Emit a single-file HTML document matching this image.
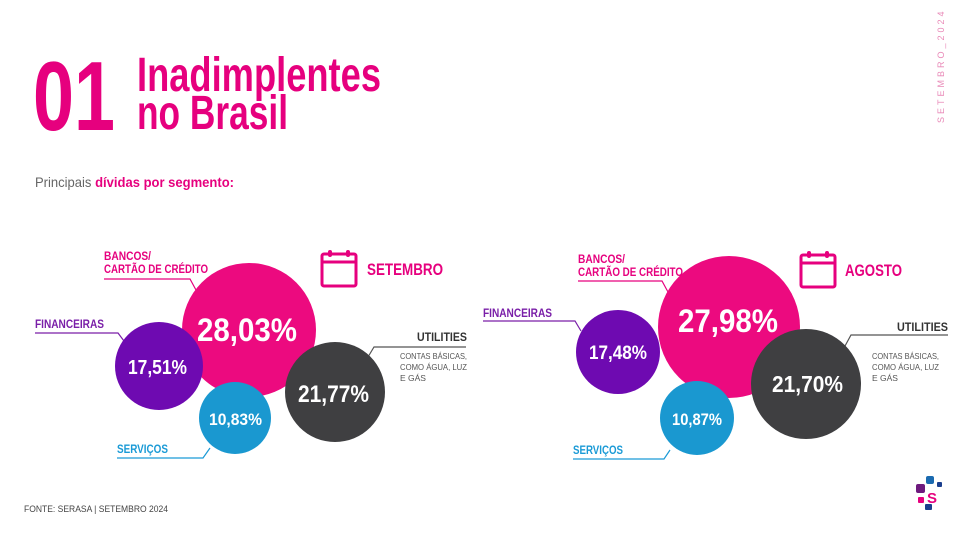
<!DOCTYPE html>
<html><head><meta charset="utf-8"><style>
html,body{margin:0;padding:0;background:#fff;}
svg{display:block}
text{font-family:"Liberation Sans",sans-serif;}
</style></head><body>
<svg width="960" height="541" viewBox="0 0 960 541" xmlns="http://www.w3.org/2000/svg">
<rect width="960" height="541" fill="#fff"/>
<!-- title -->
<text x="33" y="130" font-size="98" font-weight="bold" fill="#e6007e" textLength="82" lengthAdjust="spacingAndGlyphs">01</text>
<text x="137" y="91" font-size="48" font-weight="bold" fill="#e6007e" textLength="244" lengthAdjust="spacingAndGlyphs">Inadimplentes</text>
<text x="137" y="129" font-size="48" font-weight="bold" fill="#e6007e" textLength="151" lengthAdjust="spacingAndGlyphs">no Brasil</text>
<text x="35" y="187" font-size="14" fill="#666" textLength="199" lengthAdjust="spacingAndGlyphs">Principais <tspan fill="#e6007e" font-weight="bold">dívidas por segmento:</tspan></text>
<text transform="translate(944,123) rotate(-90)" font-size="9" fill="#e98ab8" letter-spacing="3">SETEMBRO_2024</text>

<!-- left chart -->
<g fill="none" stroke-width="1.2">
<polyline points="104,279 190,279 196,290" stroke="#e6007e"/>
<polyline points="35,333 118,333 124,341" stroke="#7a1fa8"/>
<polyline points="117,458 203,458 210,448" stroke="#1a9ad6"/>
<polyline points="466,347 374,347 368,357" stroke="#555"/>
</g>
<circle cx="249" cy="330" r="67" fill="#ec0a7f"/>
<circle cx="159" cy="366" r="44" fill="#6e0ab1"/>
<circle cx="335" cy="392" r="50" fill="#3f3f41"/>
<circle cx="235" cy="418" r="36" fill="#1a98d0"/>
<g font-weight="bold" fill="#fff" lengthAdjust="spacingAndGlyphs">
<text x="197" y="341" font-size="32" textLength="100" lengthAdjust="spacingAndGlyphs">28,03%</text>
<text x="128" y="374" font-size="20" textLength="59" lengthAdjust="spacingAndGlyphs">17,51%</text>
<text x="298" y="402" font-size="24" textLength="71" lengthAdjust="spacingAndGlyphs">21,77%</text>
<text x="209" y="425" font-size="17" textLength="53" lengthAdjust="spacingAndGlyphs">10,83%</text>
</g>
<g font-weight="bold" font-size="12">
<text x="104" y="260" fill="#e6007e" textLength="47" lengthAdjust="spacingAndGlyphs">BANCOS/</text>
<text x="104" y="273" fill="#e6007e" textLength="104" lengthAdjust="spacingAndGlyphs">CARTÃO DE CRÉDITO</text>
<text x="35" y="328" fill="#7a1fa8" textLength="69" lengthAdjust="spacingAndGlyphs">FINANCEIRAS</text>
<text x="117" y="453" fill="#1a9ad6" textLength="51" lengthAdjust="spacingAndGlyphs">SERVIÇOS</text>
<text x="417" y="341" fill="#333" textLength="50" lengthAdjust="spacingAndGlyphs">UTILITIES</text>
</g>
<g font-size="8.5" fill="#555">
<text x="400" y="359" textLength="67" lengthAdjust="spacingAndGlyphs">CONTAS BÁSICAS,</text>
<text x="400" y="370" textLength="67" lengthAdjust="spacingAndGlyphs">COMO  ÁGUA, LUZ</text>
<text x="400" y="381">E GÁS</text>
</g>
<g fill="none" stroke="#e6007e" stroke-width="3">
<rect x="322" y="254" width="34" height="32" rx="2"/>
<line x1="322" y1="262" x2="356" y2="262"/>
</g>
<rect x="328" y="250" width="4" height="7" rx="2" fill="#e6007e"/>
<rect x="346" y="250" width="4" height="7" rx="2" fill="#e6007e"/>
<text x="367" y="275" font-size="17" font-weight="bold" fill="#e6007e" textLength="76" lengthAdjust="spacingAndGlyphs">SETEMBRO</text>

<!-- right chart -->
<g fill="none" stroke-width="1.2">
<polyline points="578,281 662,281 668,292" stroke="#e6007e"/>
<polyline points="483,321 575,321 581,331" stroke="#7a1fa8"/>
<polyline points="573,459 664,459 670,450" stroke="#1a9ad6"/>
<polyline points="948,335 851,335 845,346" stroke="#555"/>
</g>
<circle cx="729" cy="327" r="71" fill="#ec0a7f"/>
<circle cx="618" cy="352" r="42" fill="#6e0ab1"/>
<circle cx="806" cy="384" r="55" fill="#3f3f41"/>
<circle cx="697" cy="418" r="37" fill="#1a98d0"/>
<g font-weight="bold" fill="#fff">
<text x="678" y="332" font-size="32" textLength="100" lengthAdjust="spacingAndGlyphs">27,98%</text>
<text x="589" y="359" font-size="19" textLength="58" lengthAdjust="spacingAndGlyphs">17,48%</text>
<text x="772" y="392" font-size="23" textLength="71" lengthAdjust="spacingAndGlyphs">21,70%</text>
<text x="672" y="425" font-size="17" textLength="50" lengthAdjust="spacingAndGlyphs">10,87%</text>
</g>
<g font-weight="bold" font-size="12">
<text x="578" y="263" fill="#e6007e" textLength="47" lengthAdjust="spacingAndGlyphs">BANCOS/</text>
<text x="578" y="276" fill="#e6007e" textLength="105" lengthAdjust="spacingAndGlyphs">CARTÃO DE CRÉDITO</text>
<text x="483" y="317" fill="#7a1fa8" textLength="69" lengthAdjust="spacingAndGlyphs">FINANCEIRAS</text>
<text x="573" y="454" fill="#1a9ad6" textLength="50" lengthAdjust="spacingAndGlyphs">SERVIÇOS</text>
<text x="897" y="331" fill="#333" textLength="51" lengthAdjust="spacingAndGlyphs">UTILITIES</text>
</g>
<g font-size="8.5" fill="#555">
<text x="872" y="359" textLength="67" lengthAdjust="spacingAndGlyphs">CONTAS BÁSICAS,</text>
<text x="872" y="370" textLength="67" lengthAdjust="spacingAndGlyphs">COMO  ÁGUA, LUZ</text>
<text x="872" y="381">E GÁS</text>
</g>
<g fill="none" stroke="#e6007e" stroke-width="3">
<rect x="801" y="255" width="34" height="32" rx="2"/>
<line x1="801" y1="263" x2="835" y2="263"/>
</g>
<rect x="807" y="251" width="4" height="7" rx="2" fill="#e6007e"/>
<rect x="825" y="251" width="4" height="7" rx="2" fill="#e6007e"/>
<text x="845" y="276" font-size="17" font-weight="bold" fill="#e6007e" textLength="57" lengthAdjust="spacingAndGlyphs">AGOSTO</text>

<text x="24" y="512" font-size="9" fill="#444" textLength="144" lengthAdjust="spacingAndGlyphs">FONTE: SERASA | SETEMBRO 2024</text>

<!-- logo -->
<rect x="916" y="484" width="9" height="9" rx="2" fill="#6e1a7e"/>
<rect x="926" y="476" width="8" height="8" rx="2" fill="#1a6ab0"/>
<rect x="937" y="482" width="5" height="5" rx="1" fill="#1a3e8e"/>
<rect x="918" y="497" width="6" height="6" rx="1" fill="#e6007e"/>
<rect x="925" y="504" width="7" height="6" rx="1" fill="#1a3e8e"/>
<text x="927" y="503" font-size="15" font-weight="bold" fill="#e6007e">S</text>
</svg>
</body></html>
